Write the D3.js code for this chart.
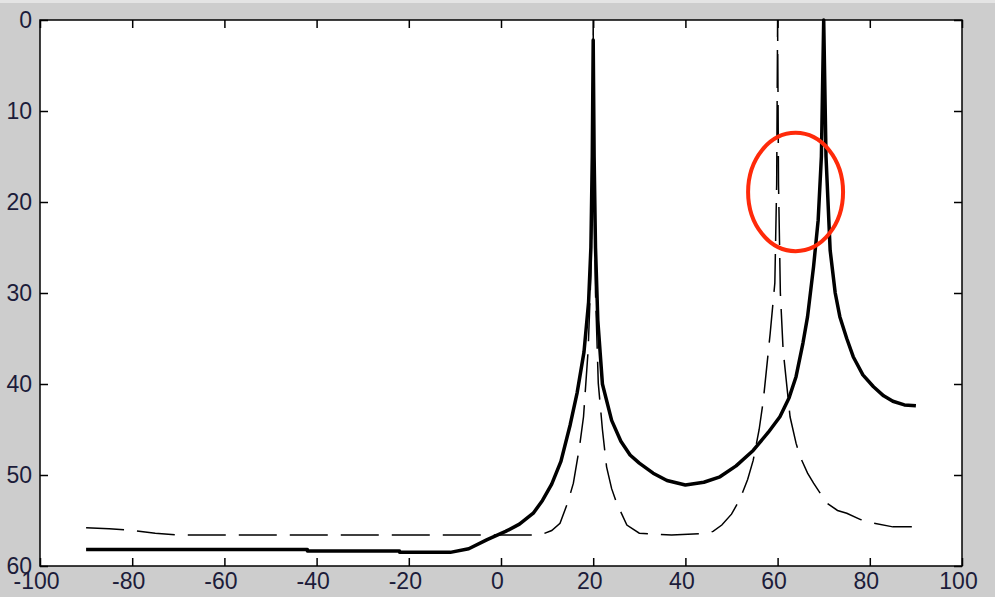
<!DOCTYPE html>
<html>
<head>
<meta charset="utf-8">
<script src="https://cdn.jsdelivr.net/npm/d3@7"></script>
<style>
  html, body { margin: 0; padding: 0; background: #cdcdcd; }
  svg { display: block; }
  .tick text { font-family: "Liberation Sans", Arial, sans-serif; font-size: 23px; fill: #1c1c3a; }
</style>
</head>
<body>
<div id="root"></div>
<script>
// thick solid curve
const solidX = [-90, -60, -42, -42, -22, -22, -11, -7, -3, 1, 4, 7, 9, 11, 13, 15, 16.5, 18, 19, 19.5, 19.8, 20,
  20.2, 20.5, 21, 22, 24, 26, 28, 30, 33, 36, 40, 44, 47.5, 51, 54.7, 58, 60.5, 62.5, 64, 65.5, 66.5, 67.8, 68.8, 69.5, 70,
  70.5, 71.4, 72.5, 73.5, 75, 76.4, 78.5, 80.8, 83, 85, 87.5, 90];
const solidY = [58.2, 58.2, 58.2, 58.35, 58.35, 58.5, 58.5, 58.1, 57.1, 56.2, 55.4, 54.2, 52.8, 51, 48.5, 44.5, 41, 36.5, 31, 25, 15, 2.2,
  15, 25, 33, 40, 44, 46.3, 47.8, 48.7, 49.8, 50.6, 51.1, 50.8, 50.2, 49, 47.3, 45.3, 43.6, 41.5, 39.2, 35.5, 32.6, 27.1, 22, 15, 0,
  15, 25.3, 30, 32.6, 35, 37, 39, 40.3, 41.3, 41.9, 42.3, 42.4];

// dashed curve
const dashX = [-90, -85, -80, -75, -70, -40, -10, 5, 8.5, 11, 12.8, 14.5, 15.7, 17, 17.9, 18.9, 19.5, 19.9, 20,
  20.1, 20.5, 21.1, 22, 22.9, 24, 25.1, 27.3, 30, 37, 44.6, 46, 47.9, 50, 51.8, 53.5, 54.7, 56, 56.9, 58.4, 59.4, 59.8, 60,
  60.2, 60.6, 61.2, 62.7, 64, 64.9, 66.5, 67.8, 70.7, 73, 75, 78, 80.8, 85, 90];
const dashY = [55.8, 55.9, 56.1, 56.4, 56.6, 56.6, 56.6, 56.6, 56.6, 56.1, 55.3, 53, 50.9, 47, 43.6, 36.3, 28, 15, 0,
  15, 30, 39.9, 45, 49.1, 51.5, 53.1, 55.5, 56.4, 56.6, 56.4, 56.2, 55.5, 54.3, 52.7, 50.5, 48.4, 45, 41.8, 34.4, 28.9, 18, 0,
  18, 30, 36.3, 43.6, 46.5, 48, 49.8, 50.9, 53.1, 53.9, 54.2, 54.9, 55.3, 55.7, 55.7];

const xTicks = [-100, -80, -60, -40, -20, 0, 20, 40, 60, 80, 100];
const yTicks = [0, 10, 20, 30, 40, 50, 60];

// red annotation ellipse (centre and radii in data units)
const markX = 63.9, markY = 18.9, markRX = 10.3, markRY = 6.5;

const width = 995;
const height = 597;
const margin = { top: 20, right: 33, bottom: 31, left: 40 };

const svg = d3
  .select("#root")
  .append("svg")
  .attr("width", width)
  .attr("height", height);

svg.append("rect").attr("width", width).attr("height", height).attr("fill", "#cdcdcd");
svg.append("rect").attr("width", width).attr("height", 3).attr("fill", "#e4e4e4");

const x = d3.scaleLinear().domain([-100, 100]).range([margin.left, width - margin.right]);
const y = d3.scaleLinear().domain([0, 60]).range([margin.top, height - margin.bottom]);

// plot area
svg
  .append("rect")
  .attr("x", x(-100))
  .attr("y", y(0))
  .attr("width", x(100) - x(-100))
  .attr("height", y(60) - y(0))
  .attr("fill", "white");

const line = d3.line().x((d) => x(d[0])).y((d) => y(d[1]));

svg
  .append("path")
  .datum(dashX.map((v, i) => [v, dashY[i]]))
  .attr("fill", "none")
  .attr("stroke", "black")
  .attr("stroke-width", 1.5)
  .attr("stroke-dasharray", "38,13")
  .attr("d", line);

svg
  .append("path")
  .datum(solidX.map((v, i) => [v, solidY[i]]))
  .attr("fill", "none")
  .attr("stroke", "black")
  .attr("stroke-width", 3.5)
  .attr("stroke-linejoin", "round")
  .attr("d", line);

// axes, ticks pointing inward on all four sides
const fmt = (d) => String(d);

svg
  .append("g")
  .attr("transform", `translate(0,${y(60)})`)
  .call(d3.axisBottom(x).tickValues(xTicks).tickFormat(fmt).tickSizeInner(-8).tickSizeOuter(0).tickPadding(7))
  .call((g) => g.selectAll(".tick text").attr("dx", -4));

svg
  .append("g")
  .attr("transform", `translate(0,${y(0)})`)
  .call(d3.axisTop(x).tickValues(xTicks).tickFormat("").tickSizeInner(-8).tickSizeOuter(0));

svg
  .append("g")
  .attr("transform", `translate(${x(-100)},0)`)
  .call(d3.axisLeft(y).tickValues(yTicks).tickFormat(fmt).tickSizeInner(-8).tickSizeOuter(0).tickPadding(8));

svg
  .append("g")
  .attr("transform", `translate(${x(100)},0)`)
  .call(d3.axisRight(y).tickValues(yTicks).tickFormat("").tickSizeInner(-8).tickSizeOuter(0));

svg.selectAll(".domain").remove();
svg.selectAll(".tick line").attr("stroke", "black").attr("stroke-width", 1.5);

// box
svg
  .append("rect")
  .attr("x", x(-100))
  .attr("y", y(0))
  .attr("width", x(100) - x(-100))
  .attr("height", y(60) - y(0))
  .attr("fill", "none")
  .attr("stroke", "black")
  .attr("stroke-width", 1.5);

// annotation
svg
  .append("ellipse")
  .attr("cx", x(markX))
  .attr("cy", y(markY))
  .attr("rx", x(markX + markRX) - x(markX))
  .attr("ry", y(markY + markRY) - y(markY))
  .attr("fill", "none")
  .attr("stroke", "#ff2a0a")
  .attr("stroke-width", 4);
</script>
</body>
</html>
